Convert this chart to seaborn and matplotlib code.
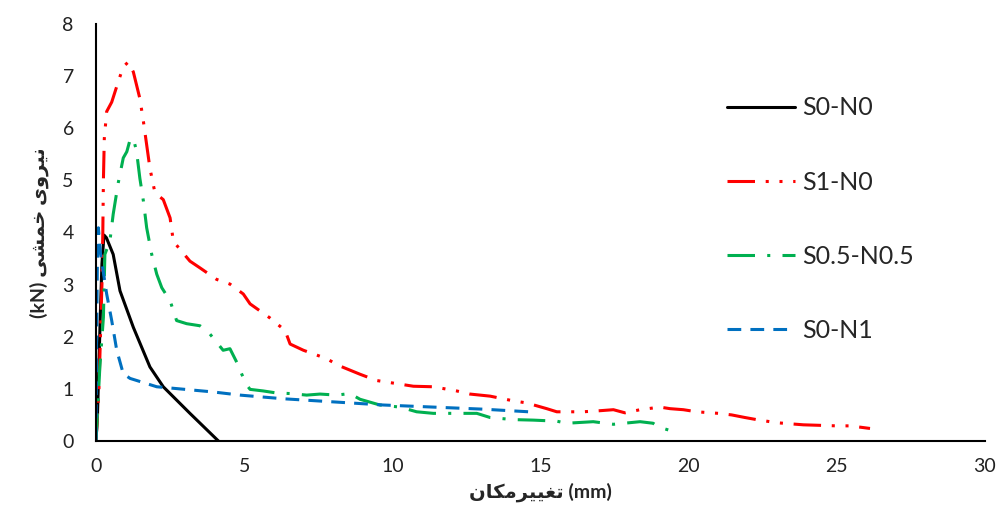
import pandas as pd
import matplotlib
matplotlib.use("Agg")
import matplotlib.pyplot as plt
import seaborn as sns

# Données (déplacement mm, force kN)
x_s0n0 = [0, 0.05, 0.1, 0.15, 0.2, 0.27, 0.35, 0.58, 0.81, 1.26, 1.82, 2.27, 3.17, 4.13]
y_s0n0 = [0, 0.5, 1.5, 2.5, 3.4, 3.95, 3.9, 3.58, 2.88, 2.18, 1.42, 1.04, 0.53, 0.0]

x_s1n0 = [0, 0.1, 0.15, 0.2, 0.23, 0.25, 0.28, 0.36, 0.53, 0.75, 0.92, 1.09, 1.26,
          1.48, 1.6, 1.71, 1.82, 1.99, 2.27, 2.5, 2.61, 2.83, 3.17, 3.51, 4.07,
          4.52, 4.97, 5.2, 5.87, 6.38, 6.55, 7.0, 7.78, 8.18, 8.91, 9.47, 10.26,
          10.71, 11.38, 12.17, 12.62, 13.3, 14.08, 14.53, 15.21, 15.55, 16.44,
          16.99, 17.46, 17.85, 18.36, 19.03, 19.37, 19.82, 20.27, 21.0, 21.45,
          21.9, 22.29, 22.97, 23.42, 23.87, 24.99, 25.45, 26.12]
y_s1n0 = [0, 1.0, 2.0, 3.0, 4.0, 5.0, 5.8, 6.32, 6.5, 6.89, 7.18, 7.27, 7.08,
          6.57, 6.13, 5.68, 5.23, 4.76, 4.63, 4.28, 3.83, 3.68, 3.45, 3.32, 3.1,
          3.01, 2.82, 2.63, 2.36, 2.12, 1.86, 1.74, 1.58, 1.45, 1.28, 1.16, 1.09,
          1.05, 1.04, 0.96, 0.9, 0.86, 0.77, 0.73, 0.62, 0.56, 0.56,
          0.58, 0.6, 0.54, 0.6, 0.65, 0.62, 0.6, 0.56, 0.53, 0.5,
          0.45, 0.41, 0.35, 0.33, 0.31, 0.29, 0.29, 0.24]

x_s05 = [0, 0.13, 0.25, 0.3, 0.47, 0.58, 0.75, 0.92, 1.04, 1.15, 1.26, 1.37, 1.48,
         1.6, 1.71, 1.88, 2.05, 2.22, 2.5, 2.72, 3.06, 3.51, 3.79, 4.29, 4.52,
         4.75, 4.92, 5.09, 5.2, 5.64, 6.1, 6.55, 7.11, 7.56, 8.12, 8.57, 8.91,
         9.58, 10.26, 10.82, 11.38, 12.4, 12.85, 13.3, 14.08, 14.76, 15.55,
         15.88, 16.78, 17.46, 18.36, 18.8, 18.98, 19.32]
y_s05 = [0, 1.42, 2.37, 3.58, 3.84, 4.35, 4.95, 5.43, 5.55, 5.78, 5.81, 5.55, 5.04,
         4.6, 4.09, 3.58, 3.2, 2.94, 2.69, 2.31, 2.25, 2.21, 2.09, 1.74, 1.77,
         1.51, 1.28, 1.07, 0.99, 0.96, 0.92, 0.91, 0.88, 0.9, 0.88, 0.91, 0.8,
         0.69, 0.65, 0.56, 0.53, 0.53, 0.53, 0.45, 0.41, 0.4, 0.38,
         0.34, 0.37, 0.32, 0.37, 0.34, 0.27, 0.21]

x_s0n1 = [0, 0.02, 0.05, 0.08, 0.15, 0.36, 0.53, 0.7, 0.92, 1.15, 2.05, 3.96,
          4.86, 6.32, 8.01, 9.7, 11.38, 13.07, 14.6]
y_s0n1 = [0, 2.0, 3.6, 4.09, 3.6, 2.82, 2.31, 1.74, 1.29, 1.2, 1.04, 0.94,
          0.88, 0.81, 0.75, 0.69, 0.65, 0.61, 0.56]

series = ["S0-N0", "S1-N0", "S0.5-N0.5", "S0-N1"]
couleurs = ["black", "#FF0000", "#00B050", "#0070C0"]
tirets = [(None, None), (9, 3.5, 1, 3.5, 1, 3.5), (9, 4, 1, 4), (4.5, 3)]

# Textes persans (formes de présentation, ordre visuel)
label_x = "\uFEE5\uFE8E\uFB91\uFEE3\uFEAE\uFEF4\uFEF4\uFED0\uFE97 (mm)"
label_y = "(kN) \uFEF0\uFEB8\uFEE4\uFEA7 \uFEEF\uFEED\uFEAE\uFEF4\uFEE7"

sns.set_style("white")
plt.rcParams['font.family'] = ['Lato', 'DejaVu Sans']

fig = plt.figure(figsize=(10, 5.21), dpi=100)
ax = fig.add_axes([0.096, 0.1536, 0.889, 0.8004])

donnees = [(x_s0n0, y_s0n0), (x_s1n0, y_s1n0), (x_s05, y_s05), (x_s0n1, y_s0n1)]
for (xs, ys), nom, c, d in zip(donnees, series, couleurs, tirets):
    df = pd.DataFrame({"x": xs, "y": ys})
    sns.lineplot(data=df, x="x", y="y", sort=False, estimator=None,
                 color=c, lw=2.2, label=nom, ax=ax)
    if d[0] is not None:
        ax.lines[-1].set_dashes(d)

ax.set_xlim(0, 30)
ax.set_ylim(0, 8)
ax.set_xticks(range(0, 31, 5))
ax.set_yticks(range(0, 9))
ax.tick_params(length=0, labelsize=14, colors="#222222")
ax.tick_params(axis="y", pad=16)
ax.tick_params(axis="x", pad=12)
sns.despine(ax=ax)
for s in ["left", "bottom"]:
    ax.spines[s].set_linewidth(1.5)
    ax.spines[s].set_color("black")

ax.set_xlabel(label_x, fontsize=14, fontweight="bold", family=['Lato', 'DejaVu Sans'], labelpad=6)
ax.set_ylabel(label_y, fontsize=14, fontweight="bold", family=['Lato', 'DejaVu Sans'], labelpad=10)

ax.legend(loc="upper left", bbox_to_anchor=(0.704, 0.858), bbox_transform=fig.transFigure,
          frameon=False, fontsize=18, handlelength=2.72, labelspacing=2.05,
          handletextpad=0.3)

plt.savefig("out.png", dpi=100)
